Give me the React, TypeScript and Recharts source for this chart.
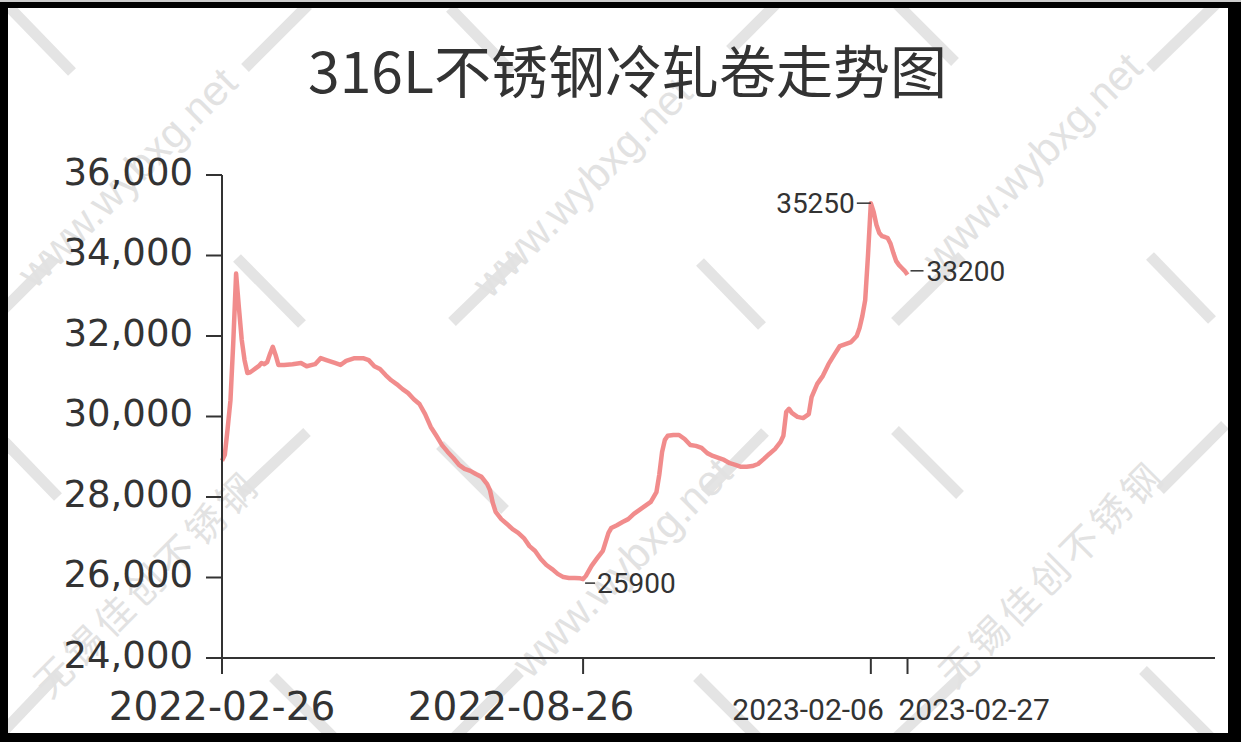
import React from 'react';
import { LineChart, Line, XAxis, YAxis, ReferenceDot } from 'recharts';

// x = trading-day index counted from 2022-02-26, price
const dayIndex = [
  0, 1, 2, 3, 4, 5, 6, 7, 8, 9,
  10, 11, 12, 13, 14, 15, 16, 17, 18, 19,
  20, 22, 25, 28, 30, 33, 35, 37, 40, 42,
  44, 47, 50, 52, 54, 56, 58, 60, 62, 64,
  66, 68, 70, 72, 74, 76, 78, 80, 82, 84,
  86, 88, 90, 92, 94, 95, 96, 97, 99, 101,
  103, 105, 107, 109, 111, 113, 115, 117, 119, 121,
  123, 125, 127, 128, 129, 131, 133, 135, 137, 138,
  140, 142, 144, 146, 148, 150, 152, 154, 155, 156,
  157, 158, 160, 162, 164, 166, 168, 170, 172, 174,
  176, 178, 180, 182, 184, 186, 188, 190, 192, 194,
  196, 198, 199, 200, 201, 202, 204, 206, 208, 209,
  211, 213, 215, 217, 219, 221, 223, 225, 226, 227,
  228, 229, 230, 231, 232, 233, 234, 235, 236, 237,
  238, 239, 240, 241, 242, 243,
];

const price = [
  28900, 29050, 29700, 30400, 31850, 33550, 32700, 31900, 31400, 31080,
  31100, 31150, 31200, 31250, 31330, 31300, 31350, 31550, 31730, 31530,
  31280, 31280, 31300, 31330, 31250, 31300, 31450, 31400, 31330, 31280,
  31380, 31450, 31450, 31400, 31250, 31180, 31030, 30900, 30800, 30680,
  30580, 30430, 30310, 30060, 29740, 29520, 29290, 29120, 28970, 28800,
  28700, 28650, 28570, 28500, 28320, 28170, 27850, 27630, 27450, 27330,
  27200, 27110, 26980, 26780, 26660, 26460, 26310, 26210, 26090, 26010,
  25990, 25990, 25980, 25960, 26040, 26290, 26480, 26660, 27110, 27230,
  27300, 27380, 27450, 27580, 27680, 27780, 27880, 28120, 28550, 29120,
  29420, 29520, 29540, 29540, 29440, 29290, 29270, 29220, 29090, 29020,
  28970, 28920, 28840, 28800, 28750, 28750, 28770, 28820, 28940, 29070,
  29190, 29370, 29520, 30110, 30190, 30090, 29990, 29960, 30060, 30480,
  30810, 31010, 31300, 31530, 31750, 31800, 31850, 32000, 32200, 32500,
  32890, 34010, 35300, 35080, 34760, 34560, 34480, 34460, 34430, 34290,
  34060, 33860, 33760, 33690, 33620, 33520,
];

const yTicks = [24000, 26000, 28000, 30000, 32000, 34000, 36000];
const xTickIndex = [0, 128, 230, 243];
const xTickLabels = ['2022-02-26', '2022-08-26', '2023-02-06', '2023-02-27'];

const markIndex = [230, 243, 128];
const markLabels = ['35250', '33200', '25900'];

const title = '316L不锈钢冷轧卷走势图';

const data = dayIndex.map((d, i) => ({ d, price: price[i] }));

const AXIS = '#333';

// per-tick label placement (the picture does not centre every label on its tick)
const xTickLook = [
  { dx: 0, anchor: 'middle', size: 39, family: 'DejaVu Sans' },
  { dx: -62, anchor: 'middle', size: 39, family: 'DejaVu Sans' },
  { dx: 13, anchor: 'end', size: 30, family: 'Roboto' },
  { dx: -9, anchor: 'start', size: 30, family: 'Roboto' },
];

const markLook = [
  { anchor: 'end', tx: -16, ty: 10, x1: -14, x2: 0, ly: 0 },
  { anchor: 'start', tx: 19, ty: 6, x1: 3, x2: 16, ly: -4 },
  { anchor: 'start', tx: 14, ty: 14, x1: 2, x2: 12, ly: 4 },
];

// watermark bars and texts
const wmBars = [
  [10, 8, 72, 72], [450, 8, 512, 72], [893, 0, 955, 62],
  [237, 258, 302, 324], [700, 262, 762, 326], [1150, 256, 1212, 320],
  [0, 437, 58, 497], [440, 445, 505, 510], [895, 430, 960, 495],
  [273, 677, 338, 742], [697, 677, 760, 740], [1143, 670, 1210, 737],
  [308, 5, 245, 68], [780, 0, 730, 50], [1220, 0, 1150, 68],
  [55, 258, 0, 313], [520, 256, 452, 322], [962, 256, 895, 322],
  [307, 432, 240, 495], [765, 432, 705, 493], [1225, 425, 1160, 490],
  [60, 672, 0, 735], [520, 672, 455, 737], [963, 675, 894, 740],
];

const wmTexts = [
  { t: 'www.wybxg.net', x: 35, y: 290 },
  { t: 'www.wybxg.net', x: 490, y: 300 },
  { t: 'www.wybxg.net', x: 940, y: 275 },
  { t: 'www.wybxg.net', x: 530, y: 680 },
  { t: '无锡佳创不锈钢', x: 50, y: 700 },
  { t: '无锡佳创不锈钢', x: 955, y: 690 },
];

const XTick = (props: any) => {
  const { x, y, payload } = props;
  const i = xTickIndex.indexOf(payload.value);
  if (i < 0) return null;
  const look = xTickLook[i];
  return (
    <text
      x={x + look.dx}
      y={y + 46}
      textAnchor={look.anchor}
      fontSize={look.size}
      fontFamily={look.family}
      fill={AXIS}
    >
      {xTickLabels[i]}
    </text>
  );
};

const YTick = (props: any) => {
  const { x, y, payload } = props;
  return (
    <text x={x} y={y + 9.5} textAnchor="end" fontSize={37} fontFamily="DejaVu Sans" fill={AXIS}>
      {Number(payload.value).toLocaleString('en-US')}
    </text>
  );
};

const Mark = ({ cx, cy, i }: { cx: number; cy: number; i: number }) => {
  const m = markLook[i];
  return (
    <g>
      <line x1={cx + m.x1} x2={cx + m.x2} y1={cy + m.ly} y2={cy + m.ly} stroke={AXIS} strokeWidth={1.5} />
      <text x={cx + m.tx} y={cy + m.ty} textAnchor={m.anchor} fontSize={28} fontFamily="Roboto" fill={AXIS}>
        {markLabels[i]}
      </text>
    </g>
  );
};

const Backdrop = () => (
  <svg width={1241} height={742} style={{ position: 'absolute', left: 0, top: 0 }}>
    <defs>
      <clipPath id="inner">
        <rect x={8} y={8} width={1220} height={725} />
      </clipPath>
    </defs>
    <rect x={0} y={0} width={1241} height={742} fill="#000" />
    <rect x={0} y={0} width={1241} height={2} fill="#ccc" />
    <g clipPath="url(#inner)">
      <rect x={0} y={0} width={1241} height={742} fill="#fff" />
      {wmBars.map((b, k) => (
        <line key={k} x1={b[0]} y1={b[1]} x2={b[2]} y2={b[3]} stroke="#e4e4e4" strokeWidth={11} />
      ))}
      {wmTexts.map((w, k) => (
        <text
          key={k}
          x={w.x}
          y={w.y}
          transform={`rotate(-45 ${w.x} ${w.y})`}
          fontSize={w.t.startsWith('www') ? 42 : 38}
          letterSpacing={w.t.startsWith('www') ? 0 : 5}
          fontFamily={w.t.startsWith('www') ? 'Liberation Sans' : 'Noto Sans CJK SC'}
          fill="#e2e2e2"
        >
          {w.t}
        </text>
      ))}
    </g>
    <text x={627.5} y={93} textAnchor="middle" fontSize={57} fontFamily="Noto Sans CJK SC" fill="#333">
      {title}
    </text>
  </svg>
);

export default function App() {
  return (
    <div style={{ position: 'absolute', left: 0, top: 0, width: 1241, height: 742 }}>
      <Backdrop />
      <div style={{ position: 'absolute', left: 0, top: 0 }}>
        <LineChart width={1241} height={742} data={data} margin={{ top: 175, right: 26, bottom: 0, left: 0 }}>
          <XAxis
            type="number"
            dataKey="d"
            domain={[0, 352]}
            ticks={xTickIndex}
            interval={0}
            height={84}
            tickSize={16}
            tickMargin={0}
            axisLine={{ stroke: AXIS, strokeWidth: 2 }}
            tickLine={{ stroke: AXIS, strokeWidth: 2 }}
            tick={XTick}
          />
          <YAxis
            type="number"
            domain={[24000, 36000]}
            ticks={yTicks}
            interval={0}
            width={222}
            tickSize={16}
            tickMargin={13}
            axisLine={{ stroke: AXIS, strokeWidth: 2 }}
            tickLine={{ stroke: AXIS, strokeWidth: 2 }}
            tick={YTick}
          />
          <Line
            type="linear"
            dataKey="price"
            stroke="#f08080"
            strokeWidth={4.5}
            strokeOpacity={0.9}
            strokeLinejoin="round"
            dot={false}
            activeDot={false}
            isAnimationActive={false}
          />
          {markIndex.map((idx, i) => (
            <ReferenceDot
              key={idx}
              x={idx}
              y={price[dayIndex.indexOf(idx)]}
              r={0}
              shape={(p: any) => <Mark cx={p.cx} cy={p.cy} i={i} />}
            />
          ))}
        </LineChart>
      </div>
    </div>
  );
}
